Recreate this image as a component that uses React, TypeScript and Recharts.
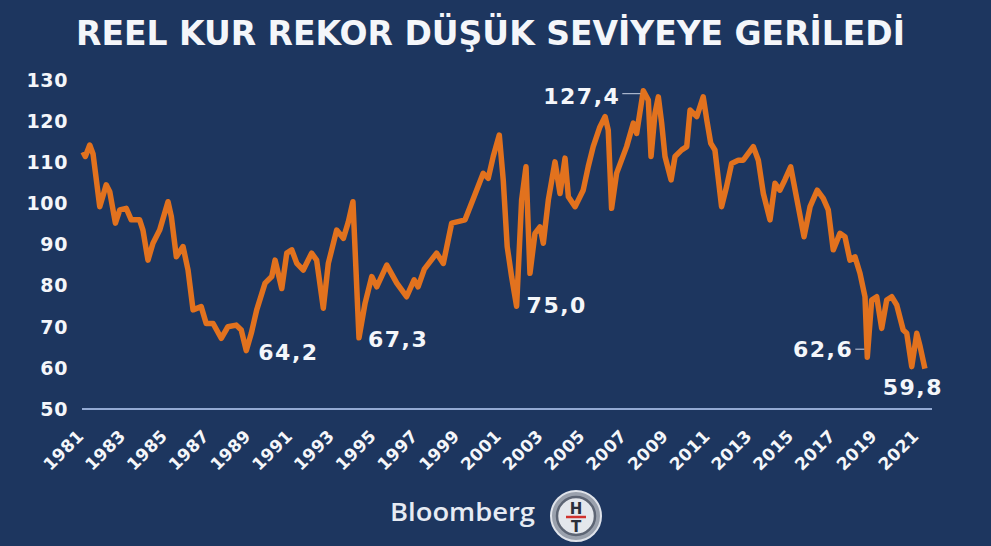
import { LineChart, Line, XAxis, YAxis, ReferenceDot } from 'recharts';

// decimal year of each reading
const years = [
  1981.05, 1981.16, 1981.37, 1981.53, 1981.85, 1982.16, 1982.33, 1982.6, 1982.81, 1983.12,
  1983.36, 1983.76, 1983.92, 1984.16, 1984.4, 1984.72, 1985.12, 1985.28, 1985.52, 1985.84,
  1986.08, 1986.32, 1986.71, 1986.95, 1987.28, 1987.67, 1987.99, 1988.39, 1988.63, 1988.87,
  1989.11, 1989.37, 1989.77, 1990.09, 1990.25, 1990.57, 1990.81, 1991.05, 1991.29, 1991.6,
  1992.0, 1992.24, 1992.56, 1992.8, 1993.2, 1993.52, 1993.76, 1993.98, 1994.27, 1994.56,
  1994.88, 1995.12, 1995.6, 1996.08, 1996.55, 1996.91, 1997.1, 1997.4, 1997.99, 1998.31,
  1998.71, 1999.35, 1999.75, 2000.22, 2000.46, 2000.7, 2000.99, 2001.18, 2001.37, 2001.58,
  2001.82, 2002.06, 2002.27, 2002.46, 2002.7, 2002.94, 2003.1, 2003.34, 2003.66, 2003.9,
  2004.14, 2004.3, 2004.62, 2005.01, 2005.25, 2005.49, 2005.81, 2006.06, 2006.21, 2006.37,
  2006.61, 2007.09, 2007.41, 2007.57, 2007.89, 2008.13, 2008.26, 2008.45, 2008.61, 2008.77,
  2008.93, 2009.22, 2009.41, 2009.73, 2009.97, 2010.13, 2010.45, 2010.76, 2010.93, 2011.12,
  2011.32, 2011.64, 2011.88, 2012.12, 2012.44, 2012.68, 2013.16, 2013.4, 2013.64, 2013.96,
  2014.2, 2014.43, 2014.67, 2014.95, 2015.24, 2015.59, 2015.88, 2016.22, 2016.51, 2016.75,
  2016.99, 2017.31, 2017.55, 2017.79, 2018.03, 2018.27, 2018.51, 2018.62, 2018.83, 2019.07,
  2019.31, 2019.55, 2019.79, 2020.03, 2020.34, 2020.51, 2020.75, 2020.99, 2021.15, 2021.38,
];

const reer = [
  112.5, 111.4, 114.2, 112, 99.2, 104.5, 102.8, 95.2, 98.4, 98.8,
  96, 96, 93.5, 86.2, 90.3, 93.5, 100.4, 96.8, 87, 89.5,
  83.8, 74.1, 74.9, 70.8, 70.8, 67.2, 70, 70.4, 69.2, 64.2,
  68.4, 74.1, 80.6, 82.2, 86.2, 79.3, 87.9, 88.7, 85.4, 83.8,
  87.9, 86.2, 74.5, 85.4, 93.5, 91.5, 95.5, 100.4, 67.3, 75.7,
  82.2, 79.7, 85, 80.6, 77.3, 81.4, 79.7, 84, 87.9, 85.4,
  95.2, 96, 101.2, 107.3, 106.1, 111.4, 116.6, 105.7, 89.5, 82.2,
  75.0, 100.8, 108.9, 83, 92.7, 94.3, 90.3, 100.8, 110.1, 102.4,
  111, 101.6, 99.2, 103.2, 108.9, 113.8, 118.6, 121.1, 117.8, 98.8,
  107.3, 113.8, 119.5, 117, 127.4, 125.1, 111.4, 121.9, 125.9, 119.5,
  111.4, 105.7, 111.4, 113, 113.8, 122.7, 121.1, 125.9, 120.3, 114.6,
  113, 99.2, 104.1, 109.7, 110.5, 110.5, 113.8, 110.5, 102.4, 96,
  104.9, 103.2, 105.7, 108.9, 101.2, 91.9, 99.2, 103.2, 101.2, 98.4,
  88.7, 92.7, 91.9, 86.2, 87, 83, 77.3, 62.6, 76.5, 77.3,
  69.6, 76.5, 77.3, 75.3, 69.2, 68.4, 60.3, 68.4, 65.2, 59.8,
];

const yearTicks = [1981, 1983, 1985, 1987, 1989, 1991, 1993, 1995, 1997, 1999, 2001,
  2003, 2005, 2007, 2009, 2011, 2013, 2015, 2017, 2019, 2021];
const valueTicks = [50, 60, 70, 80, 90, 100, 110, 120, 130];

// labelled points: index into the series
const marked = [29, 48, 70, 94, 137, 149];

const data = years.map((t, i) => ({ t, v: reer[i] }));

const BG = '#1d365f';
const ORANGE = '#e2721e';
const WHITE = '#f4f6fa';
const FONT = '"DejaVu Sans", Verdana, sans-serif';

const fmt = (v: number) => v.toFixed(1).replace('.', ',');

// where each annotation sits relative to its point
const labelPlace = [
  { dx: 12, dy: 9, anchor: 'start', lineY: null },
  { dx: 9, dy: 9, anchor: 'start', lineY: null },
  { dx: 10, dy: 7, anchor: 'start', lineY: null },
  { dx: -23, dy: 13, anchor: 'end', lineY: 3 },
  { dx: -14, dy: 0, anchor: 'end', lineY: -8 },
  { dx: -12, dy: 26, anchor: 'middle', lineY: null },
];

const AnnoLabel = (props: any) => {
  const { viewBox, text, place } = props;
  const x = viewBox.x + viewBox.width / 2;
  const y = viewBox.y + viewBox.height / 2;
  return (
    <g>
      {place.lineY !== null && (
        <line x1={x + place.dx + 2} y1={y + place.lineY} x2={x - 3} y2={y + place.lineY}
          stroke="#c8d2e4" strokeWidth={1} />
      )}
      <text x={x + place.dx} y={y + place.dy} textAnchor={place.anchor}
        fill={WHITE} fontFamily={FONT} fontWeight="bold" fontSize={22}
        letterSpacing={1.5}>
        {text}
      </text>
    </g>
  );
};

const YearTick = ({ x, y, payload }: any) => {
  const tx = x + 3;
  const ty = y + 28;
  return (
    <text x={tx} y={ty} transform={`rotate(-45, ${tx}, ${ty})`} textAnchor="end"
      fill={WHITE} fontFamily={FONT} fontWeight="bold" fontSize={17} letterSpacing={0.4}>
      {payload.value}
    </text>
  );
};

const ValueTick = ({ x, y, payload }: any) => (
  <text x={x} y={y} dy="0.36em" textAnchor="end" fill={WHITE}
    fontFamily={FONT} fontWeight="bold" fontSize={19} letterSpacing={0.6}>
    {payload.value}
  </text>
);

export default function App() {
  return (
    <div style={{ position: 'absolute', left: 0, top: 0, width: 991, height: 546, background: BG }}>
      <LineChart width={991} height={546} data={data}
        margin={{ top: 80, right: 59, left: 22, bottom: 77 }}>
        <XAxis dataKey="t" type="number" domain={[1981, 2021.72]} ticks={yearTicks}
          interval={0} tickLine={false} tickSize={0} tickMargin={0} height={60}
          axisLine={{ stroke: '#93aad3', strokeWidth: 2 }} tick={<YearTick />} />
        <YAxis type="number" domain={[50, 130]} ticks={valueTicks} interval={0}
          width={60} axisLine={false} tickLine={false} tickSize={6} tickMargin={8}
          tick={<ValueTick />} />
        <Line type="linear" dataKey="v" stroke={ORANGE} strokeWidth={5.5} dot={false}
          strokeLinejoin="round" isAnimationActive={false} />
        {marked.map((idx, k) => (
          <ReferenceDot key={idx} x={years[idx]} y={reer[idx]} r={0}
            fill="none" stroke="none"
            label={<AnnoLabel text={fmt(reer[idx])} place={labelPlace[k]} />} />
        ))}
      </LineChart>
      <svg width={991} height={546} style={{ position: 'absolute', left: 0, top: 0, pointerEvents: 'none' }}>
        <text x={76} y={45} textLength={829} lengthAdjust="spacingAndGlyphs"
          fill={WHITE} fontFamily={FONT} fontWeight="bold" fontSize={34}>
          REEL KUR REKOR DÜŞÜK SEVİYEYE GERİLEDİ
        </text>
        <text x={390} y={521} textLength={145} lengthAdjust="spacingAndGlyphs"
          fill="#e6ebf3" fontFamily='"Open Sans", sans-serif' fontWeight={600} fontSize={25}>
          Bloomberg
        </text>
        <circle cx={576} cy={516} r={25} fill="#9aa1ad" stroke="#dfe3ea" strokeWidth={2} />
        <circle cx={576} cy={516} r={19} fill="#e4e7ec" stroke="#5d6574" strokeWidth={2.5} />
        <text x={576} y={514} textAnchor="middle" fill="#2a2f3a" fontFamily={FONT}
          fontWeight="bold" fontSize={15}>H</text>
        <line x1={566} y1={517} x2={586} y2={517} stroke="#d0312d" strokeWidth={2.5} />
        <text x={576} y={532} textAnchor="middle" fill="#2a2f3a" fontFamily={FONT}
          fontWeight="bold" fontSize={15}>T</text>
      </svg>
    </div>
  );
}
